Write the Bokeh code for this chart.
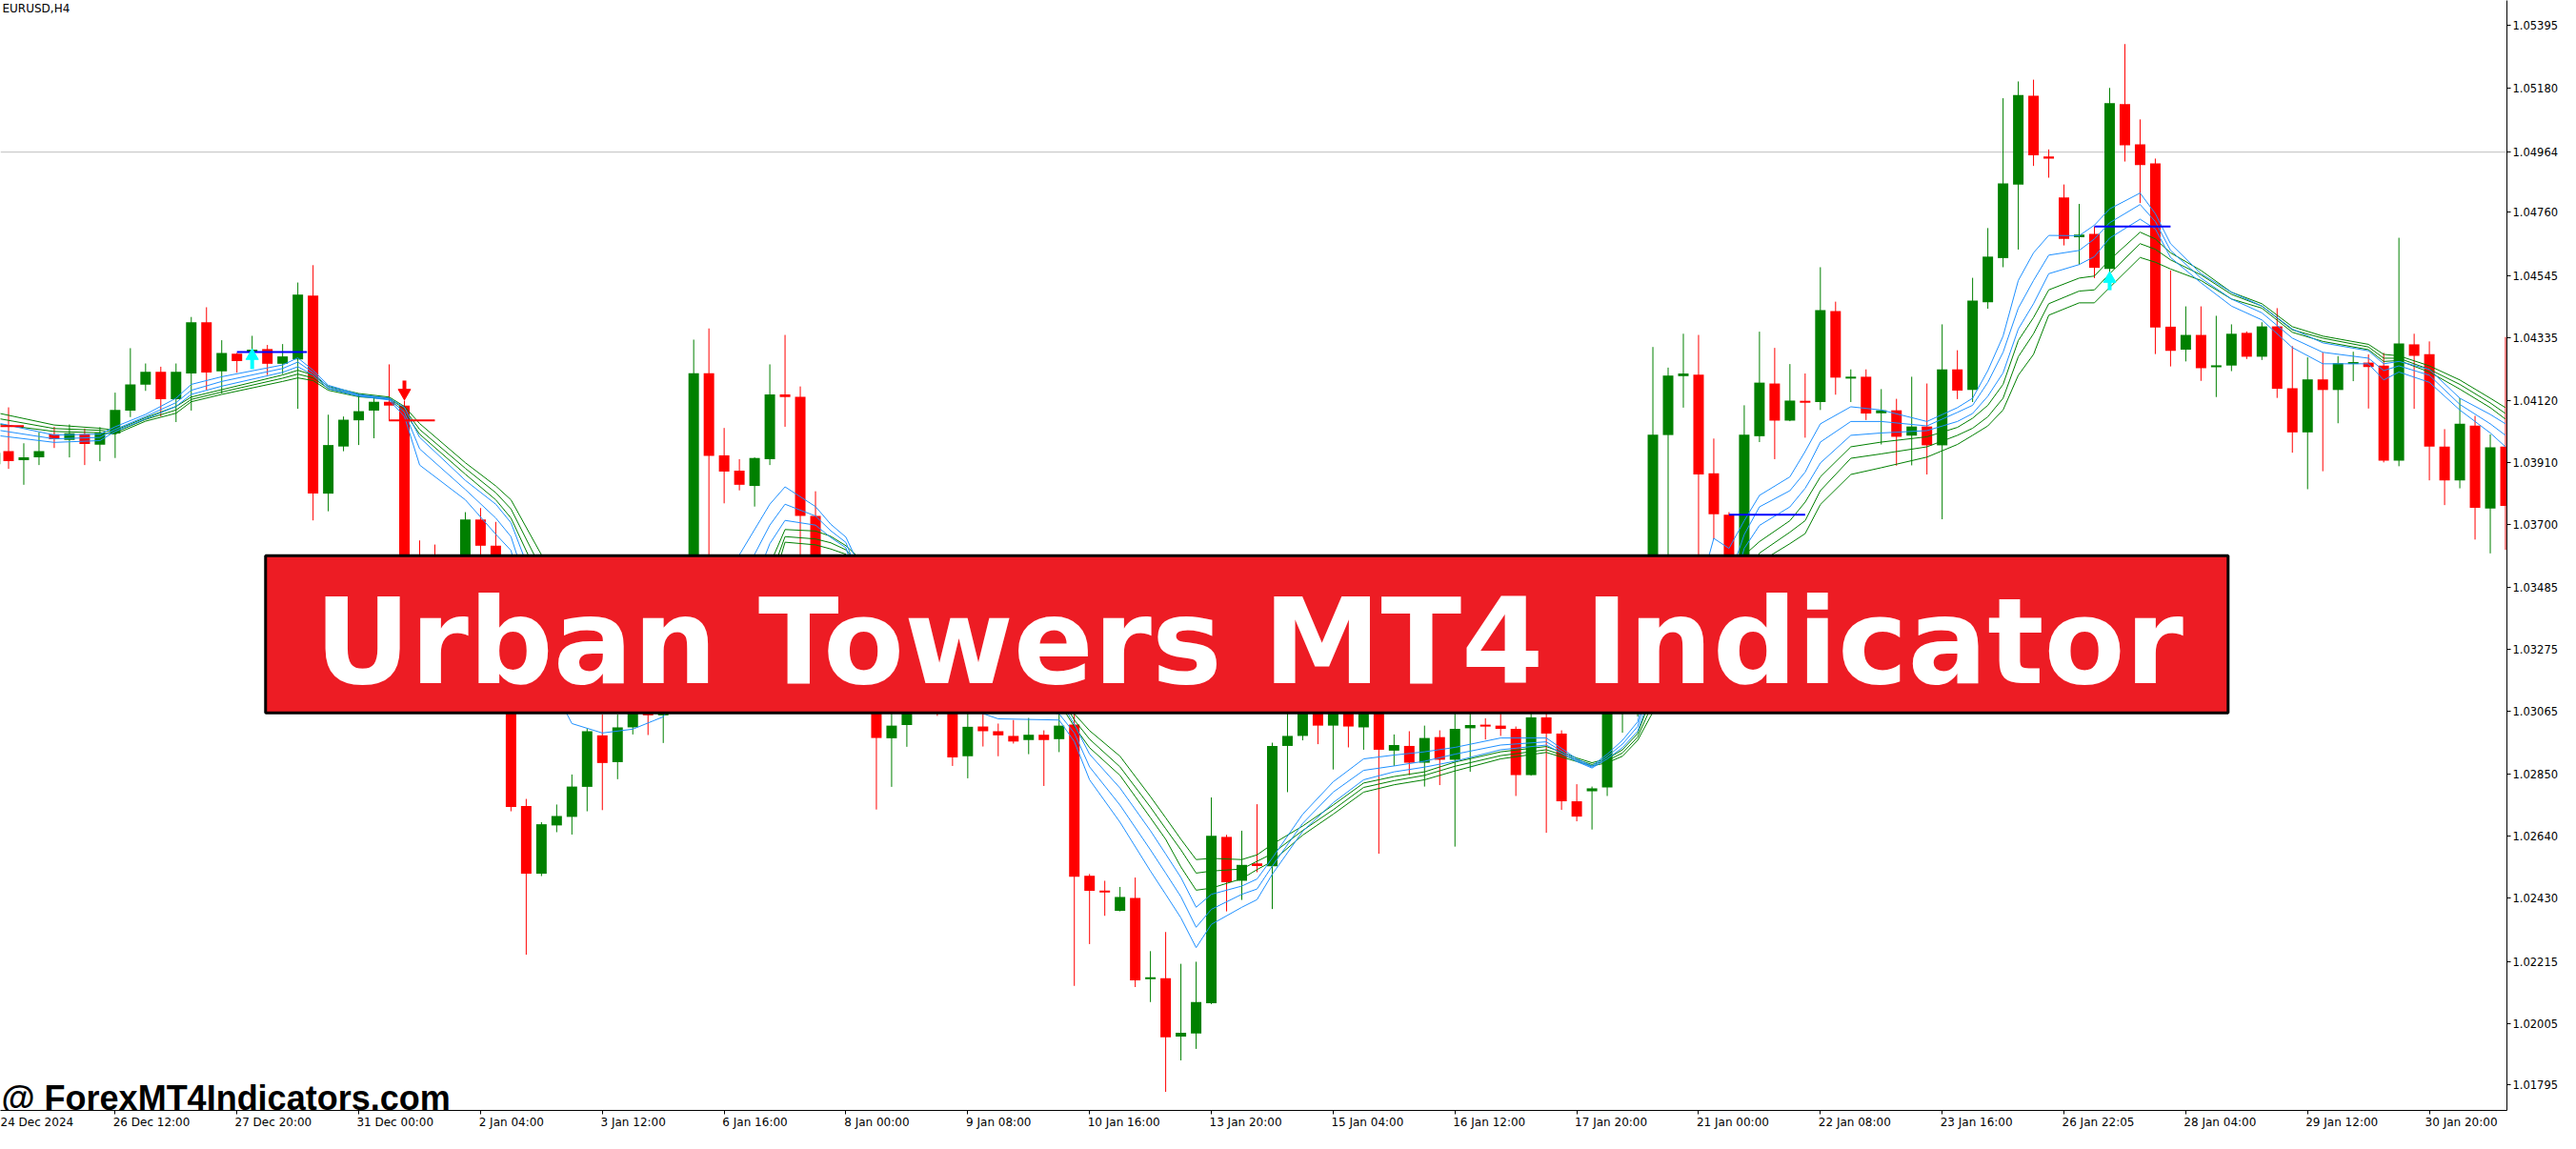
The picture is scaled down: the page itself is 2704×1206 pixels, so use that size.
import numpy as np
from bokeh.plotting import figure
from bokeh.models import (ColumnDataSource, Range1d, FixedTicker, NumeralTickFormatter,
                          Span, BoxAnnotation, Label)
from bokeh.embed import file_html
from bokeh.resources import INLINE

# ---------------- data (EURUSD, H4) ----------------
opens = [
    1.03904, 1.03948, 1.03918, 1.03927, 1.04006, 1.03986, 1.04006, 1.03970, 1.04008, 1.04086,
    1.04174, 1.04218, 1.04125, 1.04212, 1.04386, 1.04219, 1.04279, 1.04285, 1.04295, 1.04245,
    1.04260, 1.04477, 1.03804, 1.03964, 1.04053, 1.04086, 1.04116, 1.04103, 1.03434, 1.03353,
    1.03240, 1.03305, 1.03716, 1.03627, 1.03272, 1.02743, 1.02513, 1.02677, 1.02706, 1.02808,
    1.02983, 1.02892, 1.03010, 1.03094, 1.03051, 1.03127, 1.03207, 1.04213, 1.03934, 1.03882,
    1.03830, 1.03921, 1.04141, 1.04133, 1.03728, 1.03434, 1.03305, 1.03369, 1.03240, 1.02973,
    1.03018, 1.03143, 1.03110, 1.03094, 1.02912, 1.03013, 1.02997, 1.02981, 1.02967, 1.02985,
    1.02970, 1.03020, 1.02506, 1.02455, 1.02387, 1.02431, 1.02155, 1.02158, 1.01960, 1.01970,
    1.02073, 1.02638, 1.02489, 1.02548, 1.02538, 1.02947, 1.02981, 1.03104, 1.03016, 1.03094,
    1.03010, 1.03110, 1.02931, 1.02947, 1.02890, 1.02977, 1.02900, 1.03007, 1.03018, 1.03016,
    1.03005, 1.02848, 1.03044, 1.02989, 1.02759, 1.02793, 1.02806, 1.03240, 1.03369, 1.03499,
    1.04003, 1.04203, 1.04208, 1.03873, 1.03732, 1.03434, 1.03999, 1.04178, 1.04052, 1.04118,
    1.04115, 1.04424, 1.04195, 1.04201, 1.04077, 1.04087, 1.04001, 1.04032, 1.03968, 1.04226,
    1.04156, 1.04454, 1.04604, 1.04854, 1.05155, 1.04949, 1.04810, 1.04675, 1.04686, 1.04567,
    1.05127, 1.04990, 1.04926, 1.04371, 1.04293, 1.04343, 1.04234, 1.04239, 1.04350, 1.04269,
    1.04372, 1.04162, 1.04012, 1.04192, 1.04156, 1.04245, 1.04249, 1.04239, 1.03916, 1.04311,
    1.04278, 1.03964, 1.03849, 1.04035, 1.03753, 1.03964,
]
highs = [
    1.04058, 1.04097, 1.03975, 1.04012, 1.04031, 1.04039, 1.04025, 1.04030, 1.04147, 1.04298,
    1.04246, 1.04235, 1.04246, 1.04404, 1.04437, 1.04325, 1.04282, 1.04340, 1.04309, 1.04312,
    1.04521, 1.04580, 1.04072, 1.04066, 1.04144, 1.04132, 1.04243, 1.04120, 1.03645, 1.03631,
    1.03434, 1.03741, 1.03755, 1.03708, 1.03369, 1.02767, 1.02688, 1.02748, 1.02850, 1.03007,
    1.03054, 1.03054, 1.03127, 1.03143, 1.03175, 1.03272, 1.04327, 1.04365, 1.04027, 1.03921,
    1.03927, 1.04243, 1.04343, 1.04168, 1.03812, 1.03499, 1.03402, 1.03418, 1.03305, 1.03110,
    1.03191, 1.03207, 1.03175, 1.03127, 1.03094, 1.03056, 1.03023, 1.03035, 1.03042, 1.03000,
    1.03094, 1.03110, 1.02512, 1.02489, 1.02468, 1.02500, 1.02250, 1.02315, 1.02207, 1.02214,
    1.02772, 1.02645, 1.02659, 1.02749, 1.02958, 1.03127, 1.03159, 1.03143, 1.03143, 1.03127,
    1.03175, 1.03159, 1.02986, 1.02997, 1.03016, 1.03000, 1.03110, 1.03094, 1.03041, 1.03078,
    1.03013, 1.03094, 1.03110, 1.03000, 1.02817, 1.02809, 1.03272, 1.03434, 1.03563, 1.04302,
    1.04232, 1.04347, 1.04343, 1.03991, 1.03741, 1.04104, 1.04354, 1.04299, 1.04244, 1.04212,
    1.04573, 1.04456, 1.04226, 1.04226, 1.04159, 1.04126, 1.04201, 1.04178, 1.04379, 1.04291,
    1.04537, 1.04706, 1.05147, 1.05204, 1.05210, 1.04973, 1.04854, 1.04788, 1.04711, 1.05182,
    1.05331, 1.05075, 1.04942, 1.04562, 1.04440, 1.04440, 1.04408, 1.04379, 1.04355, 1.04386,
    1.04434, 1.04305, 1.04267, 1.04283, 1.04271, 1.04286, 1.04277, 1.04282, 1.04673, 1.04347,
    1.04321, 1.04023, 1.04128, 1.04068, 1.04005, 1.04336,
]
lows = [
    1.03890, 1.03888, 1.03834, 1.03901, 1.03959, 1.03927, 1.03901, 1.03914, 1.03925, 1.04064,
    1.04153, 1.04066, 1.04047, 1.04086, 1.04157, 1.04144, 1.04215, 1.04230, 1.04207, 1.04210,
    1.04092, 1.03713, 1.03744, 1.03948, 1.03969, 1.03992, 1.04050, 1.03369, 1.03272, 1.03175,
    1.03191, 1.03272, 1.03499, 1.03224, 1.02725, 1.02238, 1.02505, 1.02654, 1.02646, 1.02725,
    1.02729, 1.02834, 1.02986, 1.02984, 1.02957, 1.03094, 1.03175, 1.03531, 1.03771, 1.03815,
    1.03760, 1.03901, 1.04031, 1.03563, 1.03353, 1.03240, 1.03240, 1.03175, 1.02731, 1.02808,
    1.02944, 1.03078, 1.03049, 1.02879, 1.02837, 1.02945, 1.02912, 1.02955, 1.02919, 1.02811,
    1.02926, 1.02132, 1.02274, 1.02370, 1.02385, 1.02128, 1.02077, 1.01772, 1.01879, 1.01918,
    1.02070, 1.02385, 1.02424, 1.02518, 1.02393, 1.02790, 1.02966, 1.02953, 1.02867, 1.02942,
    1.02934, 1.02581, 1.02879, 1.02848, 1.02809, 1.02814, 1.02605, 1.02859, 1.02969, 1.02981,
    1.02777, 1.02846, 1.02652, 1.02730, 1.02691, 1.02663, 1.02777, 1.02992, 1.03047, 1.03434,
    1.03563, 1.04096, 1.03563, 1.03649, 1.03369, 1.03402, 1.03979, 1.03921, 1.04050, 1.03994,
    1.04088, 1.04140, 1.04115, 1.04054, 1.03971, 1.03899, 1.03900, 1.03869, 1.03717, 1.04125,
    1.04115, 1.04432, 1.04573, 1.04633, 1.04917, 1.04877, 1.04647, 1.04582, 1.04536, 1.04551,
    1.04932, 1.04791, 1.04278, 1.04236, 1.04253, 1.04187, 1.04132, 1.04220, 1.04261, 1.04258,
    1.04129, 1.03943, 1.03819, 1.03880, 1.04043, 1.04186, 1.04093, 1.03910, 1.03897, 1.04092,
    1.03849, 1.03765, 1.03822, 1.03648, 1.03601, 1.03613,
]
closes = [
    1.03943, 1.03914, 1.03927, 1.03948, 1.03989, 1.04009, 1.03973, 1.04011, 1.04088, 1.04175,
    1.04218, 1.04125, 1.04218, 1.04386, 1.04215, 1.04282, 1.04254, 1.04293, 1.04245, 1.04270,
    1.04480, 1.03804, 1.03969, 1.04055, 1.04084, 1.04116, 1.04103, 1.03434, 1.03353, 1.03240,
    1.03305, 1.03716, 1.03627, 1.03272, 1.02740, 1.02513, 1.02681, 1.02709, 1.02809, 1.02997,
    1.02889, 1.03010, 1.03094, 1.03051, 1.03127, 1.03207, 1.04213, 1.03932, 1.03879, 1.03834,
    1.03925, 1.04141, 1.04132, 1.03728, 1.03434, 1.03305, 1.03369, 1.03240, 1.02974, 1.03016,
    1.03143, 1.03110, 1.03078, 1.02908, 1.03012, 1.02997, 1.02983, 1.02962, 1.02985, 1.02967,
    1.03016, 1.02503, 1.02455, 1.02450, 1.02434, 1.02151, 1.02161, 1.01957, 1.01973, 1.02077,
    1.02642, 1.02484, 1.02543, 1.02539, 1.02947, 1.02981, 1.03110, 1.03016, 1.03094, 1.03013,
    1.03110, 1.02934, 1.02950, 1.02890, 1.02974, 1.02900, 1.03005, 1.03018, 1.03014, 1.03005,
    1.02848, 1.03044, 1.02989, 1.02759, 1.02707, 1.02803, 1.03240, 1.03369, 1.03499, 1.04004,
    1.04205, 1.04212, 1.03869, 1.03734, 1.03434, 1.04004, 1.04181, 1.04052, 1.04120, 1.04114,
    1.04427, 1.04198, 1.04201, 1.04076, 1.04087, 1.03997, 1.04032, 1.03968, 1.04226, 1.04154,
    1.04460, 1.04609, 1.04858, 1.05158, 1.04953, 1.04942, 1.04669, 1.04684, 1.04571, 1.05130,
    1.04987, 1.04920, 1.04368, 1.04289, 1.04343, 1.04230, 1.04239, 1.04347, 1.04269, 1.04372,
    1.04160, 1.04012, 1.04192, 1.04156, 1.04247, 1.04250, 1.04234, 1.03916, 1.04314, 1.04272,
    1.03964, 1.03849, 1.04041, 1.03756, 1.03961, 1.03762,
]

# Urban Towers indicator lines, read at these bars
ma_bars = [0, 4, 7, 8, 10, 12, 13, 15, 19, 20,
           21, 22, 24, 26, 27, 28, 31, 33, 34, 36,
           38, 40, 42, 44, 46, 49, 51, 52, 54, 55,
           56, 58, 62, 66, 70, 71, 72, 74, 76, 77,
           78, 79, 80, 82, 83, 84, 86, 88, 90, 92,
           94, 96, 99, 102, 104, 105, 106, 107, 108, 109,
           110, 112, 113, 114, 115, 116, 118, 119, 120, 122,
           124, 127, 129, 130, 131, 132, 133, 134, 135, 137,
           138, 139, 141, 142, 143, 145, 147, 149, 151, 153,
           156, 157, 158, 160, 162, 164, 165]
blue1 = [1.04047, 1.04003, 1.04006, 1.04031, 1.04073, 1.04128, 1.04175, 1.04201, 1.04241, 1.04265,
         1.04223, 1.04172, 1.04141, 1.04128, 1.04097, 1.03995, 1.03849, 1.03768, 1.03705, 1.03434,
         1.03240, 1.03175, 1.03159, 1.03191, 1.03434, 1.03596, 1.03768, 1.03827, 1.03760, 1.03700,
         1.03656, 1.03434, 1.03240, 1.03143, 1.03110, 1.03020, 1.02919, 1.02804, 1.02659, 1.02580,
         1.02500, 1.02399, 1.02443, 1.02471, 1.02495, 1.02566, 1.02715, 1.02825, 1.02903, 1.02916,
         1.02927, 1.02942, 1.02974, 1.02974, 1.02903, 1.02879, 1.02919, 1.02966, 1.03029, 1.03240,
         1.03369, 1.03466, 1.03652, 1.03618, 1.03712, 1.03798, 1.03861, 1.03947, 1.04041, 1.04099,
         1.04088, 1.04049, 1.04096, 1.04128, 1.04222, 1.04339, 1.04528, 1.04622, 1.04681, 1.04680,
         1.04716, 1.04771, 1.04825, 1.04755, 1.04653, 1.04551, 1.04488, 1.04441, 1.04363, 1.04316,
         1.04289, 1.04245, 1.04253, 1.04226, 1.04128, 1.04073, 1.04041]
blue2 = [1.04022, 1.03990, 1.03995, 1.04022, 1.04066, 1.04113, 1.04155, 1.04185, 1.04229, 1.04251,
         1.04215, 1.04166, 1.04138, 1.04125, 1.04081, 1.03956, 1.03818, 1.03721, 1.03658, 1.03337,
         1.03143, 1.03078, 1.03078, 1.03110, 1.03305, 1.03499, 1.03697, 1.03768, 1.03728, 1.03678,
         1.03638, 1.03369, 1.03175, 1.03094, 1.03056, 1.02991, 1.02876, 1.02746, 1.02594, 1.02515,
         1.02435, 1.02331, 1.02392, 1.02443, 1.02461, 1.02539, 1.02684, 1.02790, 1.02864, 1.02879,
         1.02895, 1.02919, 1.02950, 1.02961, 1.02898, 1.02875, 1.02911, 1.02953, 1.03013, 1.03191,
         1.03305, 1.03402, 1.03563, 1.03515, 1.03665, 1.03759, 1.03814, 1.03877, 1.03979, 1.04049,
         1.04049, 1.04034, 1.04080, 1.04104, 1.04182, 1.04284, 1.04434, 1.04528, 1.04614, 1.04630,
         1.04669, 1.04724, 1.04786, 1.04728, 1.04630, 1.04536, 1.04465, 1.04418, 1.04332, 1.04284,
         1.04264, 1.04222, 1.04238, 1.04206, 1.04107, 1.04041, 1.04002]
blue3 = [1.04003, 1.03978, 1.03984, 1.04015, 1.04058, 1.04100, 1.04141, 1.04169, 1.04216, 1.04235,
         1.04207, 1.04160, 1.04135, 1.04122, 1.04066, 1.03901, 1.03783, 1.03666, 1.03611, 1.03224,
         1.03023, 1.02991, 1.03004, 1.03046, 1.03207, 1.03369, 1.03634, 1.03713, 1.03697, 1.03655,
         1.03620, 1.03305, 1.03110, 1.03039, 1.03035, 1.02962, 1.02832, 1.02688, 1.02522, 1.02443,
         1.02363, 1.02262, 1.02341, 1.02399, 1.02425, 1.02511, 1.02657, 1.02754, 1.02832, 1.02859,
         1.02875, 1.02895, 1.02934, 1.02950, 1.02894, 1.02872, 1.02903, 1.02941, 1.02997, 1.03143,
         1.03240, 1.03337, 1.03483, 1.03434, 1.03618, 1.03696, 1.03759, 1.03822, 1.03908, 1.04002,
         1.04010, 1.04018, 1.04049, 1.04076, 1.04135, 1.04214, 1.04363, 1.04449, 1.04551, 1.04582,
         1.04609, 1.04672, 1.04736, 1.04703, 1.04606, 1.04520, 1.04441, 1.04394, 1.04300, 1.04245,
         1.04245, 1.04190, 1.04217, 1.04182, 1.04088, 1.04010, 1.03963]
green1 = [1.04081, 1.04037, 1.04026, 1.04019, 1.04062, 1.04100, 1.04132, 1.04157, 1.04207, 1.04223,
          1.04207, 1.04168, 1.04144, 1.04132, 1.04100, 1.04042, 1.03909, 1.03830, 1.03783, 1.03596,
          1.03434, 1.03337, 1.03288, 1.03272, 1.03305, 1.03337, 1.03563, 1.03682, 1.03677, 1.03659,
          1.03627, 1.03531, 1.03369, 1.03240, 1.03175, 1.03056, 1.02999, 1.02912, 1.02775, 1.02703,
          1.02630, 1.02561, 1.02565, 1.02561, 1.02577, 1.02613, 1.02675, 1.02746, 1.02821, 1.02843,
          1.02859, 1.02892, 1.02927, 1.02945, 1.02906, 1.02890, 1.02903, 1.02934, 1.02989, 1.03127,
          1.03207, 1.03305, 1.03402, 1.03402, 1.03595, 1.03641, 1.03712, 1.03775, 1.03861, 1.03963,
          1.03979, 1.03997, 1.04029, 1.04060, 1.04104, 1.04175, 1.04324, 1.04402, 1.04496, 1.04536,
          1.04543, 1.04598, 1.04692, 1.04669, 1.04622, 1.04562, 1.04488, 1.04449, 1.04371, 1.04339,
          1.04311, 1.04277, 1.04272, 1.04238, 1.04190, 1.04128, 1.04096]
green2 = [1.04062, 1.04025, 1.04019, 1.04012, 1.04056, 1.04088, 1.04124, 1.04149, 1.04196, 1.04210,
          1.04197, 1.04161, 1.04139, 1.04128, 1.04091, 1.04022, 1.03890, 1.03807, 1.03752, 1.03547,
          1.03369, 1.03272, 1.03240, 1.03224, 1.03256, 1.03288, 1.03515, 1.03658, 1.03650, 1.03637,
          1.03613, 1.03499, 1.03321, 1.03191, 1.03127, 1.03035, 1.02970, 1.02876, 1.02739, 1.02666,
          1.02594, 1.02515, 1.02522, 1.02529, 1.02555, 1.02581, 1.02660, 1.02730, 1.02806, 1.02829,
          1.02847, 1.02878, 1.02914, 1.02934, 1.02900, 1.02884, 1.02897, 1.02923, 1.02977, 1.03094,
          1.03159, 1.03240, 1.03337, 1.03353, 1.03499, 1.03602, 1.03673, 1.03712, 1.03814, 1.03924,
          1.03939, 1.03963, 1.04002, 1.04026, 1.04065, 1.04128, 1.04269, 1.04347, 1.04449, 1.04492,
          1.04496, 1.04551, 1.04653, 1.04634, 1.04598, 1.04547, 1.04481, 1.04441, 1.04360, 1.04332,
          1.04302, 1.04264, 1.04264, 1.04226, 1.04175, 1.04112, 1.04076]
green3 = [1.04042, 1.04015, 1.04011, 1.04006, 1.04050, 1.04077, 1.04116, 1.04141, 1.04185, 1.04197,
          1.04188, 1.04155, 1.04133, 1.04125, 1.04081, 1.04006, 1.03870, 1.03783, 1.03721, 1.03499,
          1.03305, 1.03207, 1.03191, 1.03182, 1.03207, 1.03240, 1.03466, 1.03639, 1.03630, 1.03616,
          1.03598, 1.03466, 1.03272, 1.03143, 1.03094, 1.03013, 1.02941, 1.02847, 1.02703, 1.02630,
          1.02536, 1.02457, 1.02464, 1.02496, 1.02527, 1.02555, 1.02644, 1.02715, 1.02790, 1.02815,
          1.02832, 1.02862, 1.02903, 1.02925, 1.02894, 1.02879, 1.02890, 1.02912, 1.02966, 1.03062,
          1.03110, 1.03191, 1.03272, 1.03288, 1.03434, 1.03571, 1.03634, 1.03668, 1.03767, 1.03869,
          1.03892, 1.03928, 1.03971, 1.04002, 1.04034, 1.04088, 1.04206, 1.04277, 1.04410, 1.04452,
          1.04452, 1.04504, 1.04606, 1.04590, 1.04567, 1.04528, 1.04465, 1.04434, 1.04352, 1.04321,
          1.04293, 1.04253, 1.04256, 1.04217, 1.04159, 1.04096, 1.04057]

# signal levels (start bar, end bar, price)
blue_seg_start = [16, 114, 138]
blue_seg_end = [20.6, 119, 143]
blue_seg_price = [1.04285, 1.03732, 1.04711]
red_seg_start = [0, 26]
red_seg_end = [2, 29]
red_seg_price = [1.04033, 1.04053]

# arrows
up_arrow_bars = [17, 139]
up_arrow_tip = [1.04288, 1.04550]
up_arrow_base = [1.04227, 1.04495]
down_arrow_bars = [27]
down_arrow_top = [1.04188]
down_arrow_tip = [1.04130]

current_price = 1.04964

price_ticks = [1.05395, 1.05180, 1.04964, 1.04760, 1.04545, 1.04335, 1.04120, 1.03910, 1.03700,
               1.03485, 1.03275, 1.03065, 1.02850, 1.02640, 1.02430, 1.02215, 1.02005, 1.01795]
time_tick_bars = [0, 8, 16, 24, 32, 40, 48, 56, 64, 72, 80, 88, 96, 104, 112, 120, 128, 136, 144, 152, 160]
time_labels = ["24 Dec 2024", "26 Dec 12:00", "27 Dec 20:00", "31 Dec 00:00", "2 Jan 04:00",
               "3 Jan 12:00", "6 Jan 16:00", "8 Jan 00:00", "9 Jan 08:00", "10 Jan 16:00",
               "13 Jan 20:00", "15 Jan 04:00", "16 Jan 12:00", "17 Jan 20:00", "21 Jan 00:00",
               "22 Jan 08:00", "23 Jan 16:00", "26 Jan 22:05", "28 Jan 04:00", "29 Jan 12:00",
               "30 Jan 20:00"]

# ---------------- styling ----------------
GREEN = "#008000"
RED = "#FF0000"
BLUE_LINE = "#1E90FF"
PX_PER_PRICE = 30902.0
BORDER_R, BORDER_B = 54, 25
W, H = 2688, 1190
XSTART = 0.46875
XEND = XSTART + (W - BORDER_R) / 16.0
YTOP = 1.05479
YBOT = YTOP - (H - BORDER_B) / PX_PER_PRICE

p = figure(width=W, height=H, x_range=Range1d(XSTART, XEND), y_range=Range1d(YBOT, YTOP),
           output_backend="svg", toolbar_location=None,
           x_axis_location="below", y_axis_location="right",
           min_border_left=0, min_border_top=0, min_border_right=BORDER_R,
           min_border_bottom=BORDER_B,
           background_fill_color="white", border_fill_color="white", outline_line_color=None)
p.xgrid.visible = False
p.ygrid.visible = False

# bottom axis: MT4-style labels starting at the tick (last one kept inside the frame)
char_w = {':': 0.337, ' ': 0.318, 'D': 0.770, 'e': 0.615, 'c': 0.550, 'J': 0.295, 'a': 0.613, 'n': 0.634}
label_pos = []
for b, lab in zip(time_tick_bars, time_labels):
    w = sum(0.636 if ch.isdigit() else char_w.get(ch, 0.6) for ch in lab) * 12 * 0.935
    label_pos.append(min(b + (w / 2 + 0.5) / 16.0, XEND - 3.0))
xa = p.xaxis[0]
xa.ticker = FixedTicker(ticks=label_pos, minor_ticks=list(time_tick_bars))
xa.major_label_overrides = {pos: lab for pos, lab in zip(label_pos, time_labels)}
xa.major_tick_line_color = None
xa.major_tick_out = 4
xa.major_tick_in = 0
xa.minor_tick_line_color = "black"
xa.minor_tick_out = 4
xa.minor_tick_in = 0
xa.axis_line_color = "black"
xa.major_label_standoff = 1
xa.major_label_text_font = "DejaVu Sans"
xa.major_label_text_font_size = "12px"
xa.major_label_text_color = "black"

ya = p.yaxis[0]
ya.ticker = FixedTicker(ticks=price_ticks)
ya.formatter = NumeralTickFormatter(format="0.00000")
ya.major_tick_out = 4
ya.major_tick_in = 0
ya.major_tick_line_color = "black"
ya.minor_tick_line_color = None
ya.axis_line_color = "black"
ya.major_label_standoff = 2
ya.major_label_text_font = "DejaVu Sans"
ya.major_label_text_font_size = "11.5px"
ya.major_label_text_color = "black"

# current price line
p.add_layout(Span(location=current_price, dimension="width", line_color="#C0C0C0",
                  line_width=1, level="underlay"))

# candles
o = np.array(opens)
c = np.array(closes)
idx = np.arange(len(opens))
colors = np.where(c >= o, GREEN, RED)
top = np.maximum(o, c)
bot = np.minimum(o, c)
min_h = 2.0 / PX_PER_PRICE
small = (top - bot) < min_h
mid = (top + bot) / 2
top = np.where(small, mid + min_h / 2, top)
bot = np.where(small, mid - min_h / 2, bot)
src = ColumnDataSource(dict(x=idx, high=highs, low=lows, top=top, bottom=bot, color=colors))
p.segment(x0="x", y0="low", x1="x", y1="high", line_color="color", line_width=1, source=src)
p.vbar(x="x", width=11 / 16.0, top="top", bottom="bottom", fill_color="color",
       line_color=None, source=src)

# indicator lines
for ys in (green1, green2, green3):
    p.line(ma_bars, ys, line_color=GREEN, line_width=1)
for ys in (blue1, blue2, blue3):
    p.line(ma_bars, ys, line_color=BLUE_LINE, line_width=1)

# signal levels
p.segment(x0=blue_seg_start, x1=blue_seg_end, y0=blue_seg_price, y1=blue_seg_price,
          line_color="#0000FF", line_width=2)
p.segment(x0=red_seg_start, x1=red_seg_end, y0=red_seg_price, y1=red_seg_price,
          line_color=RED, line_width=2)

# arrows
head = 5.0 / PX_PER_PRICE
p.segment(x0=up_arrow_bars, x1=up_arrow_bars, y0=up_arrow_base,
          y1=[t - head for t in up_arrow_tip], line_color="#00FFFF", line_width=4)
p.scatter(x=up_arrow_bars, y=[t - head for t in up_arrow_tip], marker="triangle", size=13,
          fill_color="#00FFFF", line_color="#00FFFF")
p.segment(x0=down_arrow_bars, x1=down_arrow_bars, y0=down_arrow_top,
          y1=[t + head for t in down_arrow_tip], line_color=RED, line_width=4)
p.scatter(x=down_arrow_bars, y=[t + head for t in down_arrow_tip], marker="inverted_triangle",
          size=13, fill_color=RED, line_color=RED)

# symbol caption
p.add_layout(Label(x=XSTART, y=YTOP - 1.0 / PX_PER_PRICE, x_offset=2, text="EURUSD,H4",
                   text_color="black", text_font="DejaVu Sans", text_font_size="12px",
                   text_baseline="top", text_align="left"))

# banner
p.add_layout(BoxAnnotation(left=17.88, right=146.78, top=1.03593, bottom=1.03059,
                           fill_color="#ED1C24", fill_alpha=1.0, line_color="black",
                           line_width=3, line_alpha=1.0))
p.add_layout(Label(x=82.47, y=1.03301, text="Urban Towers MT4 Indicator", text_color="white",
                   text_font="DejaVu Sans", text_font_style="bold", text_font_size="124px",
                   text_align="center", text_baseline="middle"))

# watermark
p.add_layout(Label(x=XSTART, y=1.01751, x_offset=1, text="@ ForexMT4Indicators.com",
                   text_color="black", text_font="Liberation Sans", text_font_style="bold",
                   text_font_size="36px", text_align="left", text_baseline="middle"))

open("out.html", "w").write(file_html(p, INLINE))
